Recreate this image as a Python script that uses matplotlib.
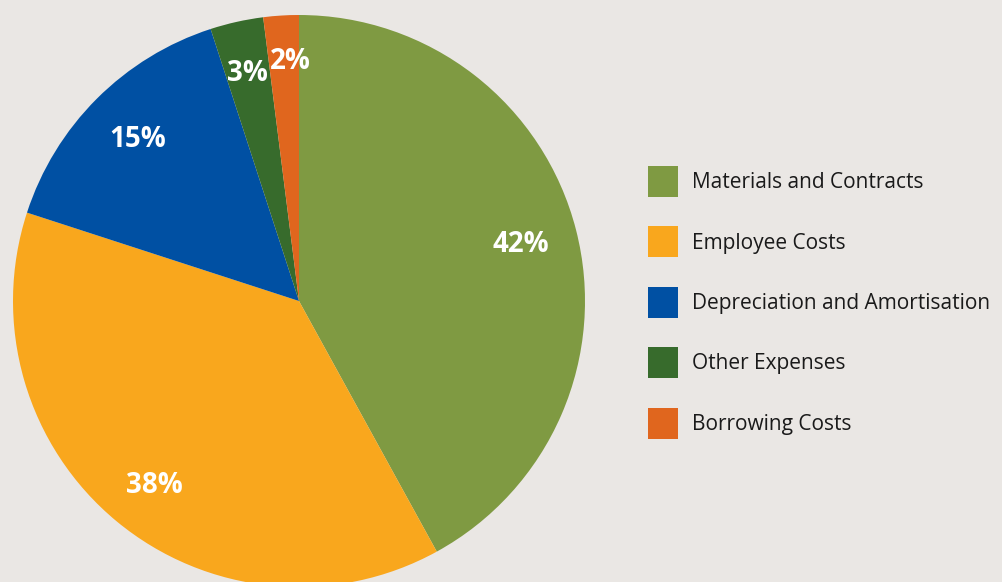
import numpy as np
import matplotlib.pyplot as plt
from matplotlib.transforms import offset_copy

# expense breakdown (%)
categories = ["Materials and Contracts", "Employee Costs",
              "Depreciation and Amortisation", "Other Expenses", "Borrowing Costs"]
shares = [42, 38, 15, 3, 2]
colors = ["#7F9A42", "#F9A71D", "#0050A3", "#376B2C", "#E0661E"]
label_dist = [0.8, 0.82, 0.8, 0.83, 0.84]
label_nudge = [(0, 0), (5, -4), (0, 0), (0, -4), (6, 0)]  # pixels

bg = "#EAE7E4"
plt.rcParams['font.family'] = ['Open Sans', 'DejaVu Sans']

fig = plt.figure(figsize=(10.03, 5.82), dpi=100, facecolor=bg)
W, H = 1003, 582
cx, cy, R = 299, 582 - 301, 286
ax = fig.add_axes([(cx - R) / W, (cy - R) / H, 2 * R / W, 2 * R / H])
ax.set_facecolor(bg)

wedges, _ = ax.pie(shares, colors=colors, startangle=90, counterclock=False,
                   radius=1, wedgeprops=dict(linewidth=0))

# percent labels placed along the wedge bisector
for w, s, d, (dx, dy) in zip(wedges, shares, label_dist, label_nudge):
    ang = np.deg2rad((w.theta1 + w.theta2) / 2)
    tr = offset_copy(ax.transData, fig=fig, x=dx, y=dy, units="dots")
    ax.text(d * np.cos(ang), d * np.sin(ang), f"{s}%", color="white",
            fontsize=20, fontweight="bold", ha="center", va="center",
            transform=tr)

ax.set_xlim(-1, 1)
ax.set_ylim(-1, 1)
ax.set_aspect("equal")
ax.axis("off")

fig.legend(wedges, categories, loc="upper left",
           bbox_to_anchor=(648 / W, 416 / H), frameon=False,
           fontsize=15, handlelength=1.44, handleheight=1.9,
           handletextpad=0.67, labelspacing=1.42,
           borderpad=0, borderaxespad=0, labelcolor="#1a1a1a")

fig.savefig("out.png", dpi=100, facecolor=bg)
